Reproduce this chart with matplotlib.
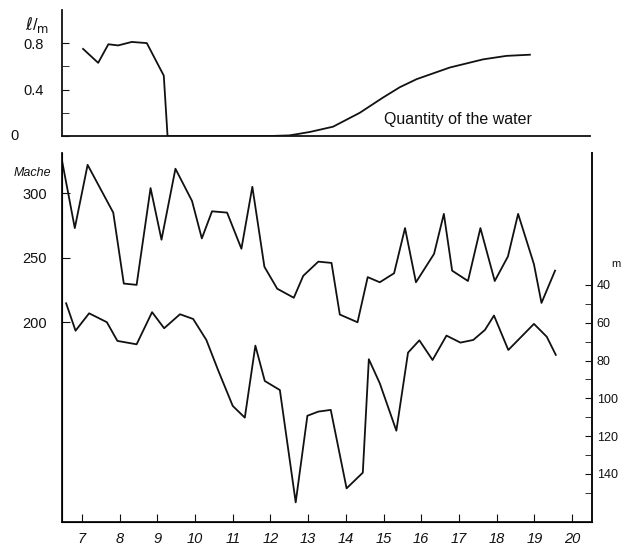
import matplotlib
matplotlib.use("Agg")
import matplotlib.pyplot as plt
from matplotlib.ticker import FixedLocator

# ── data ────────────────────────────────────────────────────────────
flow_x = [7.03, 7.43, 7.70, 7.96, 8.32, 8.72, 9.17, 9.27]
flow_y = [0.75, 0.63, 0.79, 0.78, 0.81, 0.80, 0.52, 0.0]

water_x = [9.27, 12.0, 12.5, 12.78, 13.05, 13.66, 14.37, 14.98, 15.43,
           15.88, 16.76, 17.64, 18.26, 18.88]
water_y = [0.0, 0.0, 0.005, 0.02, 0.035, 0.08, 0.20, 0.33, 0.42,
           0.49, 0.59, 0.66, 0.69, 0.70]

mache_x = [6.46, 6.81, 7.15, 7.83, 8.11, 8.45, 8.82, 9.11, 9.48, 9.92,
           10.18, 10.45, 10.85, 11.23, 11.52, 11.84, 12.18, 12.62, 12.87,
           13.27, 13.62, 13.84, 14.31, 14.58, 14.90, 15.28, 15.57, 15.86,
           16.34, 16.60, 16.82, 17.24, 17.57, 17.95, 18.30, 18.57, 18.99,
           19.19, 19.55]
mache = [327, 273, 322, 285, 230, 229, 304, 264, 319, 294,
         265, 286, 285, 257, 305, 243, 226, 219, 236,
         247, 246, 206, 200, 235, 231, 238, 273, 231,
         253, 284, 240, 232, 273, 232, 251, 284, 245,
         215, 240]

depth_x = [6.58, 6.83, 7.19, 7.66, 7.94, 8.45, 8.86, 9.18, 9.60, 9.95,
           10.30, 10.61, 11.00, 11.32, 11.60, 11.85, 12.25, 12.67, 12.98,
           13.27, 13.60, 14.02, 14.45, 14.61, 14.90, 15.34, 15.65, 15.95,
           16.30, 16.67, 17.04, 17.38, 17.69, 17.93, 18.31, 18.99, 19.33,
           19.57]
depth = [49.7, 64.2, 55.0, 59.7, 69.6, 71.4, 54.4, 62.9, 55.5, 58.0,
         69.1, 85.0, 104.0, 110.2, 72.1, 90.8, 95.6, 155.0, 109.2,
         107.0, 106.1, 147.6, 139.3, 79.3, 92.0, 117.1, 75.8, 69.3,
         79.7, 66.8, 70.5, 69.1, 63.8, 56.2, 74.4, 60.6, 67.4,
         77.0]

day_ticks = list(range(7, 21))
depth_ticks = [40, 60, 80, 100, 120, 140]

INK = "#111111"
plt.rcParams["font.family"] = ["Liberation Sans", "DejaVu Sans"]

fig = plt.figure(figsize=(6.21, 5.47), dpi=100, facecolor="white")

# ── top panel: flow / quantity of water ────────────────────────────
ax_top = fig.add_axes([0.0998, 0.7514, 0.850, 0.2303])
ax_top.plot(flow_x, flow_y, color=INK, lw=1.3)
ax_top.plot(water_x, water_y, color=INK, lw=1.3)
ax_top.set_xlim(6.47, 20.47)
ax_top.set_ylim(0, 1.085)
for s in ("top", "right"):
    ax_top.spines[s].set_visible(False)
for s in ("left", "bottom"):
    ax_top.spines[s].set_color(INK)
    ax_top.spines[s].set_linewidth(1.3)
ax_top.set_xticks([])
ax_top.set_yticks([0, 0.4, 0.8])
ax_top.set_yticklabels(["", "0.4", "0.8"])
ax_top.yaxis.set_minor_locator(FixedLocator([0.2, 0.6]))
ax_top.tick_params(axis="y", which="both", direction="in", length=5,
                   colors=INK, labelsize=10.5, pad=13)
# the zero sits further out than the other labels
ax_top.text(-0.09, 0.0, "0", transform=ax_top.transAxes, fontsize=10.5,
            color=INK, ha="center", va="center")
ax_top.text(-0.047, 0.88, r"$\ell$/$_{\rm m}$", transform=ax_top.transAxes,
            fontsize=12, color=INK, ha="center", va="center")
ax_top.text(15.0, 0.14, "Quantity of the water", fontsize=11.5,
            color=INK, ha="left", va="center")

# ── bottom panel: Mache (left) and depth in m (right) ───────────────
ax = fig.add_axes([0.0998, 0.0457, 0.8535, 0.6746])
ax.plot(mache_x, mache, color=INK, lw=1.3)
ax.set_xlim(6.47, 20.53)
ax.set_ylim(45.2, 331.2)
ax.spines["top"].set_visible(False)
for s in ("left", "bottom", "right"):
    ax.spines[s].set_color(INK)
    ax.spines[s].set_linewidth(1.3)
ax.set_xticks(day_ticks)
ax.set_xticklabels([str(d) for d in day_ticks], style="italic")
ax.set_yticks([200, 250, 300])
ax.tick_params(axis="x", direction="in", length=6, colors=INK,
               labelsize=10.5, pad=7)
ax.tick_params(axis="y", direction="in", length=6, colors=INK,
               labelsize=10.5, pad=11)
ax.text(-0.055, 0.946, "Mache", transform=ax.transAxes, fontsize=9,
        style="italic", color=INK, ha="center", va="center")

ax2 = ax.twinx()
ax2.plot(depth_x, depth, color=INK, lw=1.3)
ax2.set_ylim(165.4, -29.8)
ax2.spines["top"].set_visible(False)
ax2.spines["right"].set_color(INK)
ax2.spines["right"].set_linewidth(1.3)
ax2.set_yticks(depth_ticks)
ax2.yaxis.set_minor_locator(FixedLocator([50, 70, 90, 110, 130, 150]))
ax2.tick_params(axis="y", which="both", direction="in", length=5,
                colors=INK, labelsize=9, pad=3.5, left=False, right=True)
ax2.text(1.045, 0.70, "m", transform=ax2.transAxes, fontsize=8,
         color=INK, ha="center", va="center")

fig.savefig("out.png", dpi=100, facecolor="white")
